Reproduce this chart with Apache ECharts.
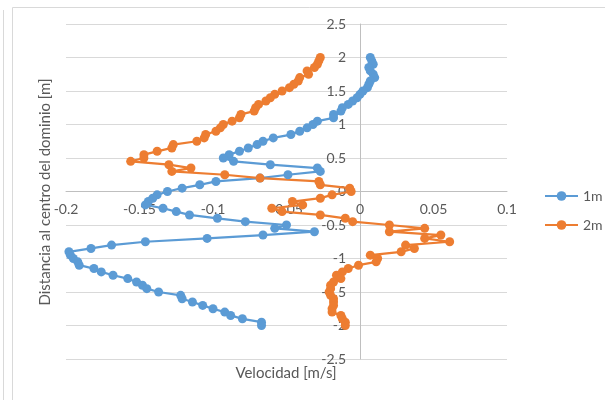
<!DOCTYPE html>
<html>
<head>
    <meta charset="utf-8">
    <title>Velocidad vs distancia</title>
    <script src="https://cdn.jsdelivr.net/npm/echarts@6.0.0/dist/echarts.min.js"></script>
</head>
<style>
    body {
        margin: 0;
        background: #fff;
    }

    #chart {
        width: 605px;
        height: 400px;
    }
</style>
<body>
<div id="chart"></div>
<script type="text/javascript">

    // distancia al centro del dominio [m]
    var distancia = [2, 1.95, 1.9, 1.85, 1.8, 1.75, 1.7, 1.65, 1.6, 1.55, 1.5, 1.45, 1.4, 1.35, 1.3, 1.25, 1.2, 1.15, 1.1, 1.05,
        1, 0.95, 0.9, 0.85, 0.8, 0.75, 0.7, 0.65, 0.6, 0.55, 0.5, 0.45, 0.4, 0.35, 0.3, 0.25, 0.2, 0.15, 0.1, 0.05,
        0, -0.05, -0.1, -0.15, -0.2, -0.25, -0.3, -0.35, -0.4, -0.45, -0.5, -0.55, -0.6, -0.65, -0.7, -0.75, -0.8, -0.85, -0.9, -0.95,
        -1, -1.05, -1.1, -1.15, -1.2, -1.25, -1.3, -1.35, -1.4, -1.45, -1.5, -1.55, -1.6, -1.65, -1.7, -1.75, -1.8, -1.85, -1.9, -1.95, -2];

    // velocidad [m/s] a 1m
    var vel1m = [0.007, 0.008, 0.009, 0.006, 0.007, 0.009, 0.010, 0.007, 0.006, 0.005,
        0.002, 0.000, -0.002, -0.005, -0.008, -0.012, -0.013, -0.018, -0.018, -0.029,
        -0.032, -0.036, -0.041, -0.047, -0.059, -0.066, -0.070, -0.076, -0.082, -0.089,
        -0.093, -0.086, -0.061, -0.029, -0.027, -0.049, -0.068, -0.098, -0.109, -0.121,
        -0.131, -0.138, -0.141, -0.144, -0.146, -0.134, -0.125, -0.116, -0.097, -0.078,
        -0.050, -0.058, -0.031, -0.066, -0.104, -0.146, -0.169, -0.183, -0.198, -0.197,
        -0.195, -0.192, -0.191, -0.181, -0.176, -0.168, -0.158, -0.152, -0.148, -0.145,
        -0.137, -0.122, -0.121, -0.114, -0.107, -0.100, -0.092, -0.088, -0.080, -0.067, -0.067];

    // velocidad [m/s] a 2m
    var vel2m = [-0.027, -0.028, -0.029, -0.031, -0.036, -0.035, -0.041, -0.042, -0.045, -0.048,
        -0.053, -0.058, -0.061, -0.064, -0.069, -0.071, -0.072, -0.081, -0.082, -0.087,
        -0.093, -0.095, -0.098, -0.105, -0.106, -0.111, -0.127, -0.128, -0.138, -0.147,
        -0.147, -0.156, -0.130, -0.115, -0.128, -0.092, -0.068, -0.028, -0.027, -0.007,
        -0.006, -0.019, -0.027, -0.046, -0.039, -0.060, -0.053, -0.027, -0.010, -0.005,
        0.020, 0.044, 0.020, 0.055, 0.044, 0.061, 0.031, 0.037, 0.028, 0.007,
        0.012, 0.011, -0.001, -0.008, -0.012, -0.016, -0.013, -0.018, -0.020, -0.020,
        -0.021, -0.020, -0.018, -0.018, -0.018, -0.019, -0.019, -0.013, -0.012, -0.010, -0.010];

    function pares(vel) {
        return vel.map(function (v, i) {
            return [v, distancia[i]];
        });
    }

    var txt = '#595959';
    var font = 'Lato, "Open Sans", sans-serif';

    // los ejes se cruzan en (0, 0): se desplazan desde el borde del grid
    var gridLeft = 66, gridRight = 98, gridTop = 24, gridBottom = 41;
    var plotW = 605 - gridLeft - gridRight;
    var plotH = 400 - gridTop - gridBottom;
    var xMin = -0.2, xMax = 0.1, yMin = -2.5, yMax = 2.5;
    var offY = -plotW * (0 - xMin) / (xMax - xMin);
    var offX = -plotH * (0 - yMin) / (yMax - yMin);

    var chart = echarts.init(document.getElementById('chart'));
    chart.setOption({
        animation: false,
        textStyle: {fontFamily: font},
        grid: {
            left: gridLeft,
            right: gridRight,
            top: gridTop,
            bottom: gridBottom
        },
        legend: {
            orient: 'vertical',
            left: 539,
            top: 184,
            itemWidth: 33,
            itemHeight: 12,
            itemGap: 15,
            textStyle: {color: txt, fontSize: 14, fontFamily: font},
            data: ['1m', '2m']
        },
        xAxis: {
            type: 'value',
            min: xMin,
            max: xMax,
            interval: 0.05,
            position: 'bottom',
            offset: offX,
            axisLine: {onZero: false, lineStyle: {color: '#bfbfbf', width: 1}},
            axisTick: {show: false},
            axisLabel: {color: txt, fontSize: 14, margin: 11},
            splitLine: {show: false}
        },
        yAxis: {
            type: 'value',
            min: yMin,
            max: yMax,
            interval: 0.5,
            position: 'left',
            offset: offY,
            axisLine: {show: true, onZero: false, lineStyle: {color: '#bfbfbf', width: 1}},
            axisTick: {show: false},
            axisLabel: {color: txt, fontSize: 14, margin: 14},
            splitLine: {lineStyle: {color: '#d9d9d9', width: 1}}
        },
        graphic: [
            {
                type: 'rect',
                shape: {x: 12.5, y: 7.5, width: 600, height: 400},
                style: {fill: null, stroke: '#d9d9d9', lineWidth: 1},
                silent: true
            },
            {
                type: 'line',
                shape: {x1: 3.5, y1: 10, x2: 3.5, y2: 400},
                style: {stroke: '#d9d9d9', lineWidth: 1},
                silent: true
            },
            {
                type: 'text',
                x: 286,
                y: 373,
                style: {
                    text: 'Velocidad [m/s]',
                    fill: txt,
                    fontSize: 15,
                    fontFamily: font,
                    align: 'center',
                    verticalAlign: 'middle'
                }
            },
            {
                type: 'text',
                x: 45,
                y: 192,
                rotation: Math.PI / 2,
                style: {
                    text: 'Distancia al centro del dominio [m]',
                    fill: txt,
                    fontSize: 15,
                    fontFamily: font,
                    align: 'center',
                    verticalAlign: 'middle'
                }
            }
        ],
        series: [
            {
                name: '1m',
                type: 'line',
                data: pares(vel1m),
                symbol: 'circle',
                symbolSize: 9,
                itemStyle: {color: '#5B9BD5'},
                lineStyle: {color: '#5B9BD5', width: 2.25}
            },
            {
                name: '2m',
                type: 'line',
                data: pares(vel2m),
                symbol: 'circle',
                symbolSize: 9,
                itemStyle: {color: '#ED7D31'},
                lineStyle: {color: '#ED7D31', width: 2.25}
            }
        ]
    });
</script>
</body>
</html>
